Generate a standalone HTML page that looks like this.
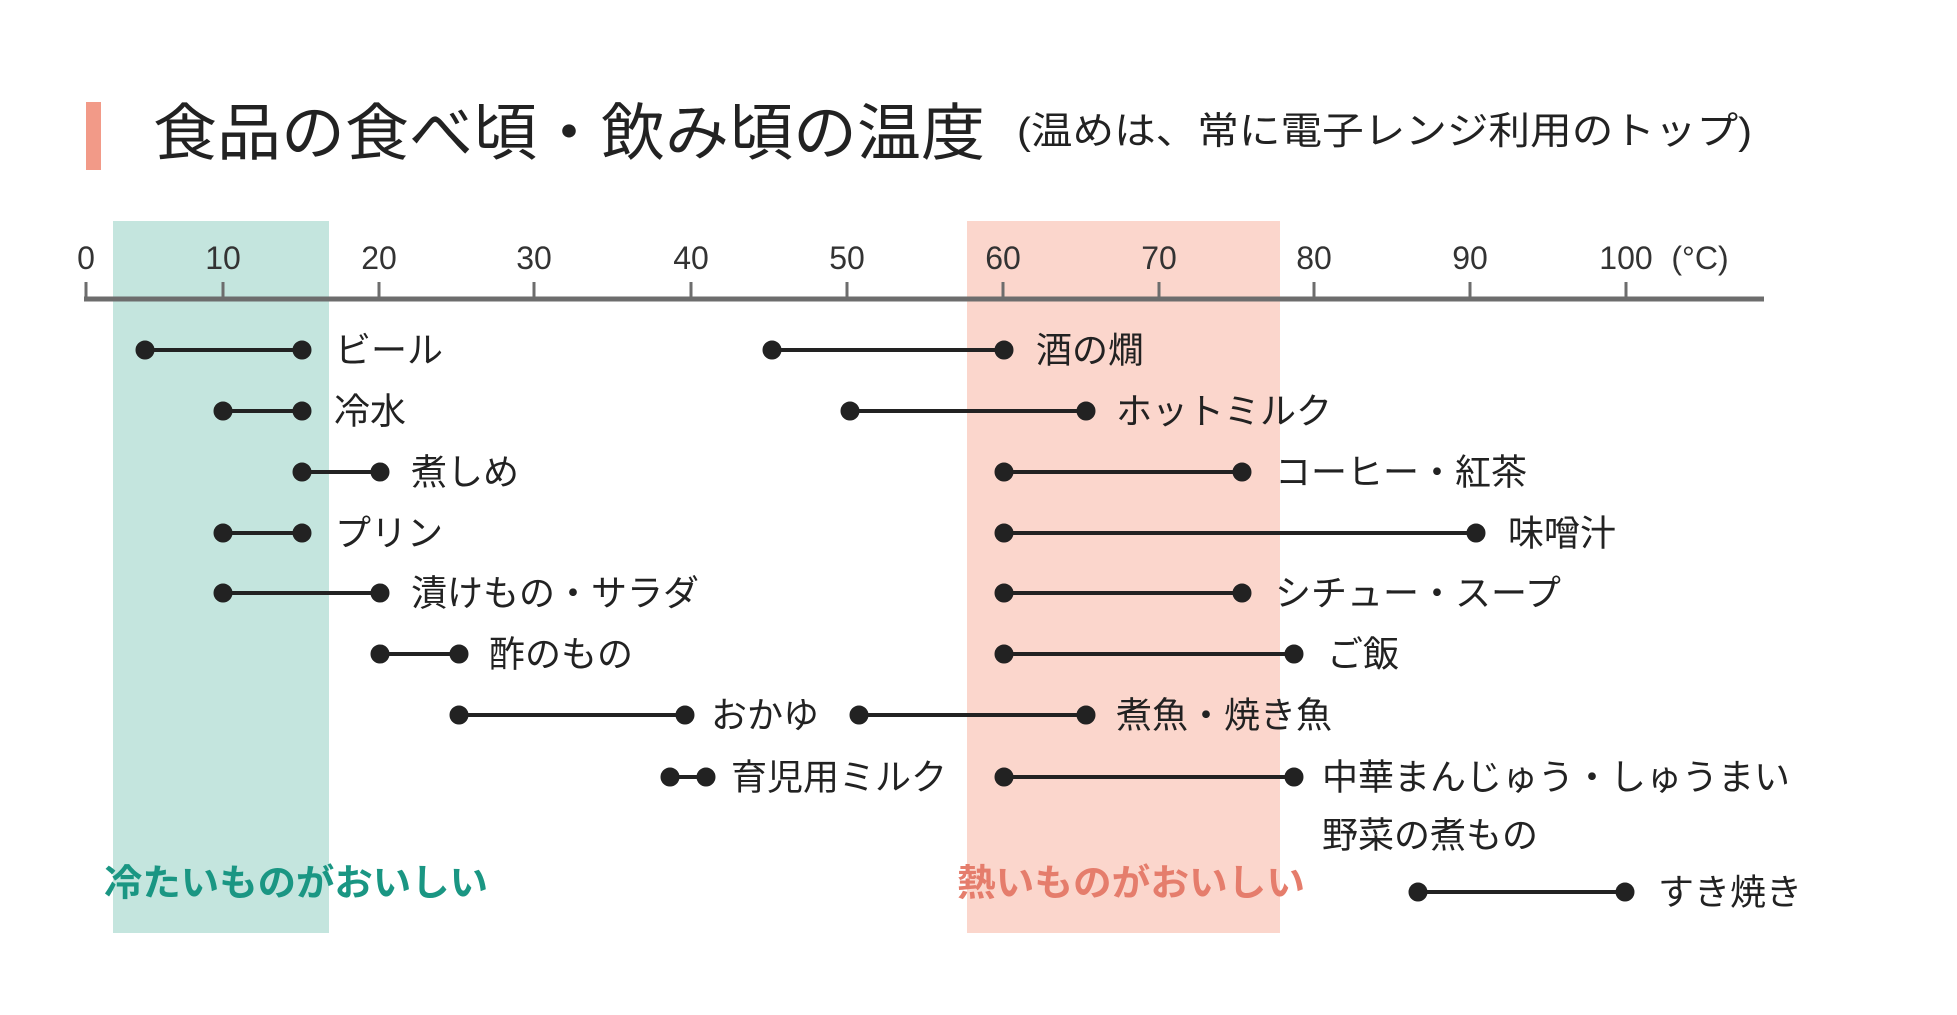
<!DOCTYPE html>
<html><head><meta charset="utf-8"><style>
html,body{margin:0;padding:0;background:#fff;}
svg{display:block;}
text{font-family:"Liberation Sans","Noto Sans CJK JP",sans-serif;}
</style></head><body>
<svg width="1957" height="1015" viewBox="0 0 1957 1015" xmlns="http://www.w3.org/2000/svg">
<rect x="0" y="0" width="1957" height="1015" fill="#fff"/>
<rect x="86" y="102" width="15" height="68" fill="#f29a88"/>
<text x="153" y="134" font-size="62" fill="#222" dominant-baseline="central" textLength="832" lengthAdjust="spacingAndGlyphs">食品の食べ頃・飲み頃の温度</text>
<text x="1017" y="132" font-size="38" fill="#222" dominant-baseline="central" textLength="735" lengthAdjust="spacingAndGlyphs">(温めは、常に電子レンジ利用のトップ)</text>
<rect x="113" y="221" width="216" height="712" fill="#c4e5de"/>
<rect x="967" y="221" width="313" height="712" fill="#fbd6cc"/>
<g fill="#333" font-size="32" text-anchor="middle" dominant-baseline="central">
<text x="86" y="258">0</text><text x="223" y="258">10</text><text x="379" y="258">20</text><text x="534" y="258">30</text><text x="691" y="258">40</text><text x="847" y="258">50</text><text x="1003" y="258">60</text><text x="1159" y="258">70</text><text x="1314" y="258">80</text><text x="1470" y="258">90</text><text x="1626" y="258">100</text>
<text x="1700" y="258">(°C)</text>
</g>
<g stroke="#6d6d6d" stroke-width="3">
<line x1="86" y1="282" x2="86" y2="299"/><line x1="223" y1="282" x2="223" y2="299"/><line x1="379" y1="282" x2="379" y2="299"/><line x1="534" y1="282" x2="534" y2="299"/><line x1="691" y1="282" x2="691" y2="299"/><line x1="847" y1="282" x2="847" y2="299"/><line x1="1003" y1="282" x2="1003" y2="299"/><line x1="1159" y1="282" x2="1159" y2="299"/><line x1="1314" y1="282" x2="1314" y2="299"/><line x1="1470" y1="282" x2="1470" y2="299"/><line x1="1626" y1="282" x2="1626" y2="299"/>
</g>
<line x1="84" y1="299" x2="1764" y2="299" stroke="#6d6d6d" stroke-width="5"/>
<g stroke="#222" stroke-width="4" fill="#222">
<line x1="145" y1="350" x2="302" y2="350"/><circle cx="145" cy="350" r="7.5"/><circle cx="302" cy="350" r="7.5"/>
<line x1="772" y1="350" x2="1004" y2="350"/><circle cx="772" cy="350" r="7.5"/><circle cx="1004" cy="350" r="7.5"/>
<line x1="223" y1="411" x2="302" y2="411"/><circle cx="223" cy="411" r="7.5"/><circle cx="302" cy="411" r="7.5"/>
<line x1="850" y1="411" x2="1086" y2="411"/><circle cx="850" cy="411" r="7.5"/><circle cx="1086" cy="411" r="7.5"/>
<line x1="302" y1="472" x2="380" y2="472"/><circle cx="302" cy="472" r="7.5"/><circle cx="380" cy="472" r="7.5"/>
<line x1="1004" y1="472" x2="1242" y2="472"/><circle cx="1004" cy="472" r="7.5"/><circle cx="1242" cy="472" r="7.5"/>
<line x1="223" y1="533" x2="302" y2="533"/><circle cx="223" cy="533" r="7.5"/><circle cx="302" cy="533" r="7.5"/>
<line x1="1004" y1="533" x2="1476" y2="533"/><circle cx="1004" cy="533" r="7.5"/><circle cx="1476" cy="533" r="7.5"/>
<line x1="223" y1="593" x2="380" y2="593"/><circle cx="223" cy="593" r="7.5"/><circle cx="380" cy="593" r="7.5"/>
<line x1="1004" y1="593" x2="1242" y2="593"/><circle cx="1004" cy="593" r="7.5"/><circle cx="1242" cy="593" r="7.5"/>
<line x1="380" y1="654" x2="459" y2="654"/><circle cx="380" cy="654" r="7.5"/><circle cx="459" cy="654" r="7.5"/>
<line x1="1004" y1="654" x2="1294" y2="654"/><circle cx="1004" cy="654" r="7.5"/><circle cx="1294" cy="654" r="7.5"/>
<line x1="459" y1="715" x2="685" y2="715"/><circle cx="459" cy="715" r="7.5"/><circle cx="685" cy="715" r="7.5"/>
<line x1="859" y1="715" x2="1086" y2="715"/><circle cx="859" cy="715" r="7.5"/><circle cx="1086" cy="715" r="7.5"/>
<line x1="670" y1="777" x2="706" y2="777"/><circle cx="670" cy="777" r="7.5"/><circle cx="706" cy="777" r="7.5"/>
<line x1="1004" y1="777" x2="1294" y2="777"/><circle cx="1004" cy="777" r="7.5"/><circle cx="1294" cy="777" r="7.5"/>
<line x1="1418" y1="892" x2="1625" y2="892"/><circle cx="1418" cy="892" r="7.5"/><circle cx="1625" cy="892" r="7.5"/>
</g>
<g fill="#222" font-size="36" dominant-baseline="central">
<text x="335" y="350">ビール</text><text x="1036" y="350">酒の燗</text>
<text x="334" y="411">冷水</text><text x="1116" y="411">ホットミルク</text>
<text x="411" y="472">煮しめ</text><text x="1275" y="472">コーヒー・紅茶</text>
<text x="335" y="533">プリン</text><text x="1508" y="533">味噌汁</text>
<text x="411" y="593">漬けもの・サラダ</text><text x="1275" y="593">シチュー・スープ</text>
<text x="489" y="654">酢のもの</text><text x="1327" y="654">ご飯</text>
<text x="711" y="715">おかゆ</text><text x="1116" y="715">煮魚・焼き魚</text>
<text x="731" y="777">育児用ミルク</text><text x="1322" y="777">中華まんじゅう・しゅうまい</text>
<text x="1322" y="835">野菜の煮もの</text>
<text x="1658" y="892">すき焼き</text>
</g>
<text x="104" y="883" font-size="37" font-weight="bold" fill="#1a9683" dominant-baseline="central" textLength="384" lengthAdjust="spacingAndGlyphs">冷たいものがおいしい</text>
<text x="957" y="883" font-size="37" font-weight="bold" fill="#e57d6c" dominant-baseline="central" textLength="348" lengthAdjust="spacingAndGlyphs">熱いものがおいしい</text>
</svg>
</body></html>
